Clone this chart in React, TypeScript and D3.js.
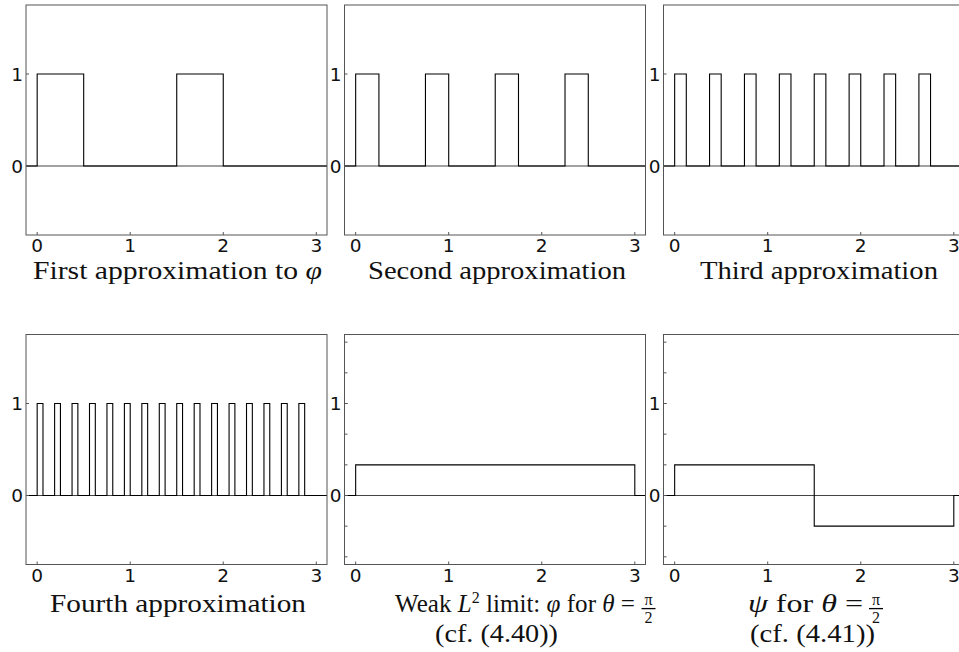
import React from "react";
import * as d3 from "d3";

// ---- data ----
const xTicks = [0, 1, 2, 3];
const yTickLabels = [0, 1];
const yMinorTicks = [-2 / 3, -1 / 3, 0, 1 / 3, 2 / 3, 1, 4 / 3, 5 / 3];
const xDomain = [-0.12, 3.115];
const yDomain = [-0.75, 1.75];

// each panel: x where the value changes, and the value after that x
const breaks1 = [0, 0.5, 1.5, 2];
const levels1 = [1, 0, 1, 0];
const breaks2 = [0, 0.25, 0.75, 1, 1.5, 1.75, 2.25, 2.5];
const levels2 = [1, 0, 1, 0, 1, 0, 1, 0];
const breaks3 = [0, 0.125, 0.375, 0.5, 0.75, 0.875, 1.125, 1.25, 1.5, 1.625, 1.875, 2, 2.25, 2.375, 2.625, 2.75];
const levels3 = [1, 0, 1, 0, 1, 0, 1, 0, 1, 0, 1, 0, 1, 0, 1, 0];
const breaks4 = [
  0, 0.0625, 0.1875, 0.25, 0.375, 0.4375, 0.5625, 0.625, 0.75, 0.8125, 0.9375, 1,
  1.125, 1.1875, 1.3125, 1.375, 1.5, 1.5625, 1.6875, 1.75, 1.875, 1.9375, 2.0625, 2.125,
  2.25, 2.3125, 2.4375, 2.5, 2.625, 2.6875, 2.8125, 2.875,
];
const levels4 = [
  1, 0, 1, 0, 1, 0, 1, 0, 1, 0, 1, 0, 1, 0, 1, 0,
  1, 0, 1, 0, 1, 0, 1, 0, 1, 0, 1, 0, 1, 0, 1, 0,
];
const breaks5 = [0, 3];
const levels5 = [1 / 3, 0];
const breaks6 = [0, 1.5, 3];
const levels6 = [1 / 3, -1 / 3, 0];

const colLeft = [26, 344.5, 663.5];
const rowTop = [5, 334.5];
const PW = 301;
const PH = 230;

const SERIF = "'Liberation Serif', 'Times New Roman', serif";
const SANS = "'DejaVu Sans', sans-serif";

type Panel = {
  breaks: number[];
  levels: number[];
  col: number;
  row: number;
  minor: boolean;
};

const panels: Panel[] = [
  { breaks: breaks1, levels: levels1, col: 0, row: 0, minor: false },
  { breaks: breaks2, levels: levels2, col: 1, row: 0, minor: false },
  { breaks: breaks3, levels: levels3, col: 2, row: 0, minor: false },
  { breaks: breaks4, levels: levels4, col: 0, row: 1, minor: false },
  { breaks: breaks5, levels: levels5, col: 1, row: 1, minor: true },
  { breaks: breaks6, levels: levels6, col: 2, row: 1, minor: true },
];

function Fraction({ cx }: { cx: number }) {
  return (
    <g>
      <text x={cx} y={605} fontFamily={SERIF} fontSize={16} textAnchor="middle">π</text>
      <line x1={cx - 7} x2={cx + 7} y1={608.6} y2={608.6} stroke="#000" strokeWidth={1.3} />
      <text x={cx} y={623} fontFamily={SERIF} fontSize={16} textAnchor="middle">2</text>
    </g>
  );
}

function Titles() {
  const fs = 25;
  const adj = "spacingAndGlyphs";
  return (
    <g fill="#111">
      <text x={33} y={279} fontFamily={SERIF} fontSize={fs} textLength={289} lengthAdjust={adj}>
        First approximation to <tspan fontStyle="italic">φ</tspan>
      </text>
      <text x={368} y={279} fontFamily={SERIF} fontSize={fs} textLength={258} lengthAdjust={adj}>
        Second approximation
      </text>
      <text x={700} y={279} fontFamily={SERIF} fontSize={fs} textLength={238} lengthAdjust={adj}>
        Third approximation
      </text>
      <text x={50} y={612} fontFamily={SERIF} fontSize={fs} textLength={256} lengthAdjust={adj}>
        Fourth approximation
      </text>
      <text x={395} y={612} fontFamily={SERIF} fontSize={fs} textLength={240} lengthAdjust={adj}>
        Weak <tspan fontStyle="italic">L</tspan>
        <tspan fontSize={16} dy={-9}>2</tspan>
        <tspan dy={9}> limit: </tspan>
        <tspan fontStyle="italic">φ</tspan> for <tspan fontStyle="italic">θ</tspan> =
      </text>
      <Fraction cx={648.5} />
      <text x={435} y={642} fontFamily={SERIF} fontSize={fs} textLength={123} lengthAdjust={adj}>
        (cf. (4.40))
      </text>
      <text x={748} y={612} fontFamily={SERIF} fontSize={fs} textLength={115} lengthAdjust={adj}>
        <tspan fontStyle="italic">ψ</tspan> for <tspan fontStyle="italic">θ</tspan> =
      </text>
      <Fraction cx={876} />
      <text x={750} y={642} fontFamily={SERIF} fontSize={fs} textLength={125} lengthAdjust={adj}>
        (cf. (4.41))
      </text>
    </g>
  );
}

function PanelView({ p, idx }: { p: Panel; idx: number }) {
  const left = colLeft[p.col];
  const top = rowTop[p.row];
  const x = d3.scaleLinear().domain(xDomain).range([left, left + PW]);
  const y = d3.scaleLinear().domain(yDomain).range([top + PH, top]);
  const pts: [number, number][] = [[xDomain[0], 0]];
  p.breaks.forEach((b, i) => pts.push([b, p.levels[i]]));
  pts.push([xDomain[1], p.levels[p.levels.length - 1]]);
  const line = d3
    .line<[number, number]>()
    .x((d) => x(d[0]))
    .y((d) => y(d[1]))
    .curve(d3.curveStepAfter);
  const clipId = `clip${idx}`;
  return (
    <g>
      <defs>
        <clipPath id={clipId}>
          <rect x={left} y={top} width={PW} height={PH} />
        </clipPath>
      </defs>
      <line x1={left} x2={left + PW} y1={y(0)} y2={y(0)} stroke="#444" strokeWidth={1} />
      <path d={line(pts) || ""} fill="none" stroke="#000" strokeWidth={1.1} clipPath={`url(#${clipId})`} />
      <rect x={left} y={top} width={PW} height={PH} fill="none" stroke="#555" strokeWidth={1} />
      {xTicks.map((t) => (
        <g key={"x" + t}>
          <line x1={x(t)} x2={x(t)} y1={top + PH} y2={top + PH - 3} stroke="#555" strokeWidth={1} />
          <text x={x(t)} y={top + PH + 17} fontFamily={SANS} fontSize={18.5} textAnchor="middle" fill="#111">
            {t}
          </text>
        </g>
      ))}
      {yTickLabels.map((t) => (
        <g key={"y" + t}>
          <line x1={left} x2={left + 3} y1={y(t)} y2={y(t)} stroke="#555" strokeWidth={1} />
          <text x={left - 3} y={y(t) + 6.7} fontFamily={SANS} fontSize={18.5} textAnchor="end" fill="#111">
            {t}
          </text>
        </g>
      ))}
      {p.minor &&
        yMinorTicks.map((t, i) => (
          <line key={"m" + i} x1={left} x2={left + 3} y1={y(t)} y2={y(t)} stroke="#555" strokeWidth={1} />
        ))}
    </g>
  );
}

export default function App() {
  return (
    <svg
      width={959}
      height={652}
      style={{ position: "absolute", left: 0, top: 0, background: "#fff" }}
    >
      <rect x={0} y={0} width={959} height={652} fill="#fff" />
      {panels.map((p, i) => (
        <PanelView key={i} p={p} idx={i} />
      ))}
      <Titles />
    </svg>
  );
}
